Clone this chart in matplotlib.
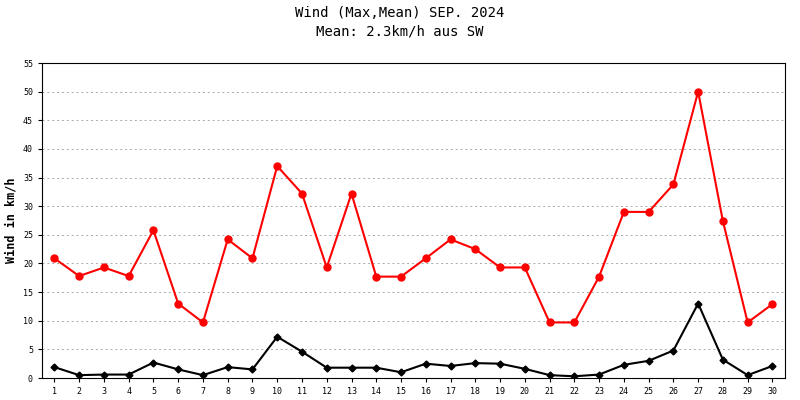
import matplotlib
matplotlib.use("Agg")
import matplotlib.pyplot as plt

days = list(range(1, 31))
wind_max = [20.9, 17.8, 19.3, 17.8, 25.8, 13.0, 9.7, 24.2, 20.9, 37.0,
            32.2, 19.3, 32.2, 17.7, 17.7, 20.9, 24.2, 22.5, 19.3, 19.3,
            9.7, 9.7, 17.7, 29.0, 29.0, 33.8, 50.0, 27.4, 9.7, 12.9]
wind_mean = [1.9, 0.5, 0.6, 0.6, 2.7, 1.5, 0.5, 1.9, 1.5, 7.2,
             4.6, 1.8, 1.8, 1.8, 1.0, 2.5, 2.1, 2.6, 2.5, 1.6,
             0.5, 0.3, 0.6, 2.3, 3.0, 4.8, 13.0, 3.2, 0.5, 2.1]

plt.rcParams['font.family'] = 'DejaVu Sans Mono'

fig = plt.figure(figsize=(8, 4), dpi=100)
ax = fig.add_axes([0.0525, 0.055, 0.9285, 0.7875])

ax.plot(days, wind_max, color='#ff0000', marker='o', markersize=5, linewidth=1.5)
ax.plot(days, wind_mean, color='black', marker='D', markersize=3.5, linewidth=1.5)

ax.set_xlim(0.5, 30.5)
ax.set_ylim(0, 55)
ax.set_xticks(days)
ax.set_yticks(range(0, 56, 5))
ax.tick_params(labelsize=6, length=3)
ax.grid(axis='y', linestyle=(0, (2, 3)), color='#aaaaaa', linewidth=0.7)
ax.set_ylabel('Wind in km/h', fontsize=8.5, fontweight='bold')
fig.suptitle('Wind (Max,Mean) SEP. 2024\nMean: 2.3km/h aus SW', fontsize=10,
             y=0.985, linespacing=1.4)

fig.savefig('out.png', dpi=100)
